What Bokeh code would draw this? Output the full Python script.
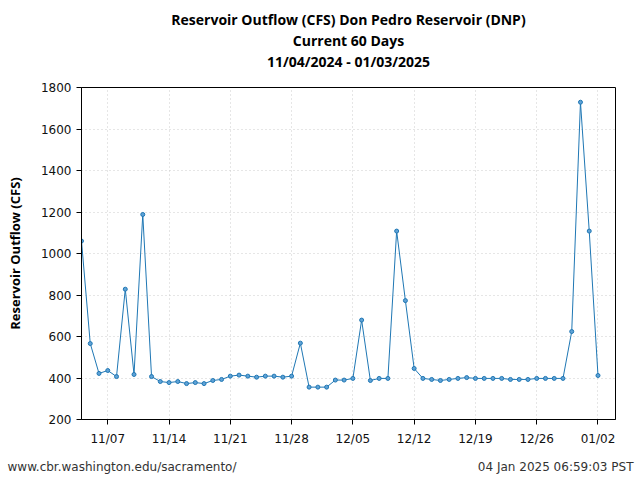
import pandas as pd
from bokeh.plotting import figure
from bokeh.layouts import column
from bokeh.models import (ColumnDataSource, FixedTicker, DatetimeTickFormatter,
                          Title, Label, Range1d)
from bokeh.embed import file_html
from bokeh.resources import INLINE

start_date = "2024-11-04"
end_date = "2025-01-04"
outflow_cfs = [
    1060, 566, 422, 436, 407, 828, 417, 1188, 407, 383,
    378, 383, 373, 378, 373, 388, 393, 409, 414, 409,
    404, 409, 409, 404, 409, 568, 356, 356, 356, 390,
    390, 398, 679, 388, 398, 398, 1108, 773, 446, 398,
    393, 388, 393, 398, 402, 398, 398, 398, 398, 393,
    393, 393, 398, 398, 398, 398, 624, 1729, 1108, 412,
]
tick_dates = ["2024-11-07", "2024-11-14", "2024-11-21", "2024-11-28", "2024-12-05",
              "2024-12-12", "2024-12-19", "2024-12-26", "2025-01-02"]
y_ticks = [200, 400, 600, 800, 1000, 1200, 1400, 1600, 1800]
title_lines = ["Reservoir Outflow (CFS) Don Pedro Reservoir (DNP)",
               "Current 60 Days",
               "11/04/2024 - 01/03/2025"]
y_label = "Reservoir Outflow (CFS)"
footer_left = "www.cbr.washington.edu/sacramento/"
footer_right = "04 Jan 2025 06:59:03 PST"

dates = pd.date_range(start_date, periods=len(outflow_cfs), freq="D")
src = ColumnDataSource(dict(x=dates, y=outflow_cfs))

p = figure(width=640, height=452, x_axis_type="datetime",
           output_backend="svg", toolbar_location=None,
           x_range=Range1d(pd.Timestamp(start_date), pd.Timestamp(end_date)),
           y_range=Range1d(200, 1800),
           min_border_left=81, min_border_right=25, min_border_top=87,
           min_border_bottom=33)
p.background_fill_color = "white"
p.border_fill_color = "white"
p.outline_line_color = "black"
p.outline_line_width = 1

line_color = "#1f77b4"
p.line("x", "y", source=src, line_color=line_color, line_width=1)
p.scatter("x", "y", source=src, size=4, fill_color="#5fa2d6",
          line_color=line_color, line_width=1)

tick_ms = [pd.Timestamp(d).value // 10**6 for d in tick_dates]
p.xaxis.ticker = FixedTicker(ticks=tick_ms)
p.xaxis.formatter = DatetimeTickFormatter(days="%m/%d", months="%m/%d", years="%m/%d")
p.yaxis.ticker = FixedTicker(ticks=y_ticks)

for ax in (p.xaxis, p.yaxis):
    ax.axis_line_color = "black"
    ax.major_tick_line_color = "black"
    ax.minor_tick_line_color = None
    ax.major_tick_out = 5
    ax.major_tick_in = 0
    ax.major_label_text_font = "DejaVu Sans"
    ax.major_label_text_font_size = "12px"
    ax.major_label_text_color = "#111111"
    ax.major_label_standoff = 5
p.xaxis.major_label_standoff = 7

p.yaxis.axis_label = y_label
p.yaxis.axis_label_text_font = "Open Sans"
p.yaxis.axis_label_text_font_style = "bold"
p.yaxis.axis_label_text_font_size = "13px"
p.yaxis.axis_label_text_color = "black"
p.yaxis.axis_label_standoff = 14

p.grid.grid_line_color = "#cccccc"
p.grid.grid_line_dash = "1 3"
p.grid.grid_line_width = 1

# spacer between frame and titles
p.add_layout(Title(text=" ", text_font_size="1px", standoff=14), "above")
for line in reversed(title_lines):
    t = Title(text=line, align="center", text_font="Open Sans",
              text_font_style="bold", text_font_size="14px",
              text_color="black", standoff=0, text_line_height=0.93)
    p.add_layout(t, "above")

foot = figure(width=640, height=28, output_backend="svg", toolbar_location=None,
              min_border=0, x_range=Range1d(0, 1), y_range=Range1d(0, 1))
if "frame_align" in foot.properties():
    foot.frame_align = False
foot.axis.visible = False
foot.grid.visible = False
foot.outline_line_color = None
foot.add_layout(Label(x=7, y=14, x_units="screen", y_units="screen",
                      text=footer_left, text_font="DejaVu Sans",
                      text_font_size="12px", text_color="#333333",
                      text_baseline="middle"))
foot.add_layout(Label(x=633, y=14, x_units="screen", y_units="screen",
                      text=footer_right, text_font="DejaVu Sans",
                      text_font_size="12px", text_color="#333333",
                      text_align="right", text_baseline="middle"))

layout = column(p, foot, spacing=0)
open("out.html", "w").write(file_html(layout, INLINE))
